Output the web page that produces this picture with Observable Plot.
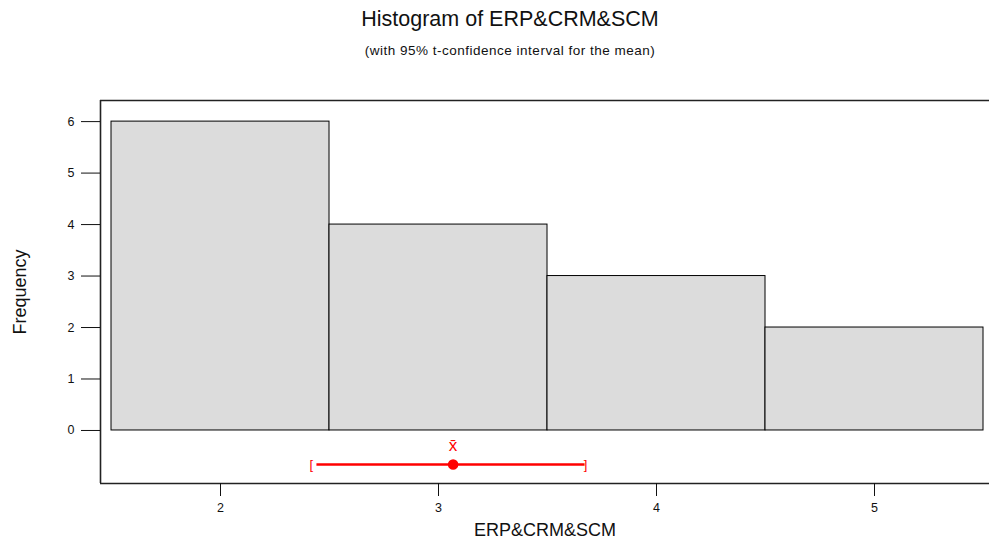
<!DOCTYPE html>
<html>
<head>
<meta charset="utf-8">
<script src="https://cdn.jsdelivr.net/npm/d3@7"></script>
<script src="https://cdn.jsdelivr.net/npm/@observablehq/plot@0.6"></script>
<style>
  body { margin: 0; background: #fff; font-family: "Liberation Sans", Arial, sans-serif; }
  #wrap { position: relative; width: 989px; height: 545px; overflow: hidden; }
  #title { position: absolute; left: 0; width: 1020px; top: 7px; text-align: center; font-size: 21.5px; color: #111; }
  #subtitle { position: absolute; left: 0; width: 1020px; top: 43px; text-align: center; font-size: 13.5px; letter-spacing: 0.5px; color: #111; }
  #chart { position: absolute; left: 0; top: 0; }
</style>
</head>
<body>
<div id="wrap">
  <div id="chart"></div>
  <div id="title">Histogram of ERP&amp;CRM&amp;SCM</div>
  <div id="subtitle">(with 95% t-confidence interval for the mean)</div>
</div>
<script>
// Histogram bins (ERP&CRM&SCM) and frequencies
const binStart = [1.5, 2.5, 3.5, 4.5];
const binEnd = [2.5, 3.5, 4.5, 5.5];
const frequency = [6, 4, 3, 2];
// 95% t-confidence interval for the mean
const ciLow = 2.44;
const ciHigh = 3.67;
const mean = 3.067;
const ciLevel = -0.66;
// Axis ticks
const xTicks = [2, 3, 4, 5];
const yTicks = [0, 1, 2, 3, 4, 5, 6];

const bins = binStart.map((s, i) => ({x1: s, x2: binEnd[i], f: frequency[i]}));
const xDomain = [1.4495, 5.5275];
const yDomain = [-1.03, 6.41];

const chart = Plot.plot({
  width: 989,
  height: 545,
  marginTop: 100,
  marginBottom: 62,
  marginLeft: 100,
  marginRight: 0,
  style: {fontFamily: "'Liberation Sans', Arial, sans-serif", background: "white", color: "#111", fontSize: "12.5px"},
  x: {domain: xDomain},
  y: {domain: yDomain},
  marks: [
    Plot.rectY(bins, {x1: "x1", x2: "x2", y1: 0, y2: "f", fill: "#dcdcdc", stroke: "#000", strokeWidth: 1}),
    // frame (left, top, bottom)
    Plot.ruleX([xDomain[0]], {stroke: "#222", strokeWidth: 1.6}),
    Plot.ruleY([yDomain[0], yDomain[1]], {stroke: "#222", strokeWidth: 1.6}),
    Plot.axisY({ticks: yTicks, tickSize: 19, tickPadding: 7, fontSize: 12.5, label: null, tickFormat: d3.format("d"), stroke: "#111"}),
    Plot.axisX({ticks: xTicks, tickSize: 13, tickPadding: 7, fontSize: 12.5, label: null, tickFormat: d3.format("d"), stroke: "#111"}),
    // confidence interval
    Plot.link([{a: ciLow, b: ciHigh}], {x1: "a", x2: "b", y1: ciLevel, y2: ciLevel, stroke: "red", strokeWidth: 2.5}),
    Plot.dot([mean], {x: d => d, y: ciLevel, r: 4.5, fill: "red", stroke: "red"}),
    Plot.text([ciLow], {x: d => d, y: ciLevel, text: () => "[", fill: "red", fontSize: 13, dx: -5}),
    Plot.text([ciHigh], {x: d => d, y: ciLevel, text: () => "]", fill: "red", fontSize: 13, dx: 1}),
    Plot.text([mean], {x: d => d, y: ciLevel, text: () => "x\u0304", fill: "red", fontSize: 17, dy: -19}),
    // axis labels
    Plot.text(["Frequency"], {frameAnchor: "left", textAnchor: "middle", dx: -80, rotate: -90, fontSize: 18, fill: "#111", text: d => d}),
    Plot.text(["ERP&CRM&SCM"], {frameAnchor: "bottom", textAnchor: "middle", dy: 52, fontSize: 18, fill: "#111", text: d => d})
  ]
});
document.getElementById("chart").appendChild(chart);
</script>
</body>
</html>
